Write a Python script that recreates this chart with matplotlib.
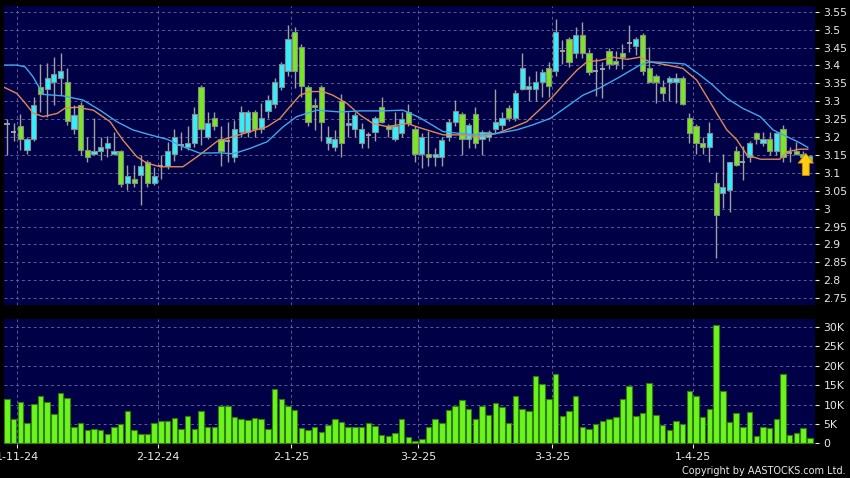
import matplotlib
matplotlib.use("Agg")
import matplotlib.pyplot as plt
import numpy as np

# daily candles, 30-10-24 .. 29-4-25 (121 sessions)
opens = [3.235, 3.215, 3.23, 3.165, 3.195, 3.34, 3.335, 3.355, 3.365, 3.355,
         3.222, 3.29, 3.163, 3.152, 3.162, 3.17, 3.152, 3.162, 3.071, 3.082,
         3.094, 3.13, 3.071, 3.12, 3.12, 3.153, 3.177, 3.171, 3.183, 3.34,
         3.2, 3.252, 3.195, 3.19, 3.143, 3.215, 3.215, 3.27, 3.222, 3.273,
         3.291, 3.34, 3.384, 3.492, 3.452, 3.34, 3.29, 3.34, 3.184, 3.173,
         3.3, 3.234, 3.222, 3.183, 3.205, 3.215, 3.283, 3.231, 3.194, 3.21,
         3.27, 3.222, 3.152, 3.152, 3.143, 3.143, 3.201, 3.241, 3.263, 3.194,
         3.263, 3.194, 3.201, 3.222, 3.234, 3.282, 3.252, 3.334, 3.334, 3.334,
         3.354, 3.392, 3.384, 3.44, 3.473, 3.434, 3.485, 3.434, 3.385, 3.39,
         3.441, 3.412, 3.434, 3.462, 3.454, 3.485, 3.392, 3.37, 3.34, 3.354,
         3.354, 3.364, 3.252, 3.232, 3.183, 3.171, 3.071, 3.043, 3.052, 3.162,
         3.131, 3.145, 3.212, 3.183, 3.194, 3.162, 3.222, 3.155, 3.162, 3.153,
         3.148]
highs = [3.25, 3.24, 3.264, 3.2, 3.313, 3.403, 3.406, 3.424, 3.436, 3.392,
         3.29, 3.299, 3.201, 3.253, 3.2, 3.203, 3.215, 3.165, 3.122, 3.122,
         3.15, 3.135, 3.117, 3.15, 3.187, 3.222, 3.215, 3.231, 3.285, 3.345,
         3.27, 3.27, 3.231, 3.243, 3.247, 3.287, 3.275, 3.275, 3.294, 3.317,
         3.365, 3.41, 3.513, 3.508, 3.46, 3.345, 3.31, 3.345, 3.231, 3.22,
         3.32, 3.27, 3.27, 3.24, 3.215, 3.26, 3.313, 3.235, 3.27, 3.27,
         3.291, 3.23, 3.21, 3.217, 3.17, 3.2, 3.25, 3.303, 3.27, 3.24,
         3.285, 3.22, 3.22, 3.334, 3.27, 3.29, 3.33, 3.434, 3.37, 3.385,
         3.39, 3.41, 3.53, 3.47, 3.48, 3.508, 3.522, 3.445, 3.42, 3.41,
         3.45, 3.44, 3.46, 3.513, 3.48, 3.49, 3.452, 3.375, 3.36, 3.37,
         3.38, 3.37, 3.266, 3.235, 3.2, 3.243, 3.103, 3.153, 3.131, 3.176,
         3.175, 3.19, 3.215, 3.215, 3.215, 3.215, 3.234, 3.173, 3.187, 3.16,
         3.15]
lows = [3.15, 3.19, 3.164, 3.152, 3.19, 3.27, 3.257, 3.29, 3.317, 3.234,
        3.208, 3.15, 3.131, 3.15, 3.135, 3.144, 3.15, 3.061, 3.052, 3.061,
        3.01, 3.061, 3.065, 3.083, 3.11, 3.134, 3.165, 3.165, 3.173, 3.178,
        3.195, 3.22, 3.119, 3.131, 3.131, 3.2, 3.2, 3.201, 3.21, 3.252,
        3.28, 3.33, 3.37, 3.336, 3.313, 3.231, 3.22, 3.19, 3.164, 3.16,
        3.145, 3.2, 3.2, 3.17, 3.17, 3.19, 3.24, 3.2, 3.19, 3.2,
        3.23, 3.131, 3.113, 3.12, 3.12, 3.12, 3.19, 3.23, 3.15, 3.17,
        3.17, 3.15, 3.19, 3.21, 3.22, 3.245, 3.245, 3.33, 3.3, 3.3,
        3.313, 3.313, 3.37, 3.405, 3.396, 3.42, 3.42, 3.373, 3.315, 3.31,
        3.39, 3.39, 3.39, 3.438, 3.43, 3.373, 3.35, 3.294, 3.3, 3.3,
        3.294, 3.29, 3.183, 3.153, 3.153, 3.131, 2.861, 3.001, 2.991, 3.12,
        3.08, 3.131, 3.18, 3.175, 3.15, 3.15, 3.131, 3.131, 3.15, 3.14,
        3.13]
closes = [3.235, 3.215, 3.195, 3.195, 3.29, 3.32, 3.365, 3.375, 3.385, 3.245,
          3.262, 3.165, 3.145, 3.162, 3.172, 3.183, 3.162, 3.07, 3.092, 3.071,
          3.12, 3.071, 3.092, 3.12, 3.162, 3.2, 3.177, 3.183, 3.263, 3.222,
          3.24, 3.231, 3.162, 3.19, 3.222, 3.27, 3.27, 3.222, 3.252, 3.303,
          3.353, 3.403, 3.473, 3.385, 3.342, 3.243, 3.283, 3.243, 3.201, 3.194,
          3.183, 3.24, 3.261, 3.222, 3.205, 3.252, 3.243, 3.222, 3.231, 3.25,
          3.24, 3.152, 3.201, 3.143, 3.152, 3.192, 3.241, 3.273, 3.194, 3.234,
          3.183, 3.213, 3.213, 3.241, 3.252, 3.252, 3.322, 3.392, 3.342, 3.353,
          3.382, 3.342, 3.492, 3.44, 3.41, 3.485, 3.434, 3.382, 3.385, 3.39,
          3.403, 3.403, 3.423, 3.462, 3.473, 3.385, 3.354, 3.354, 3.322, 3.364,
          3.364, 3.292, 3.212, 3.183, 3.171, 3.212, 2.982, 3.061, 3.131, 3.122,
          3.131, 3.183, 3.194, 3.194, 3.162, 3.212, 3.145, 3.155, 3.153, 3.143,
          3.133]
# volume in thousands of shares
volumes = [11.4, 6.3, 10.6, 5.3, 10.2, 12.1, 10.6, 7.5, 12.9, 11.8,
           4.3, 5.3, 3.4, 3.6, 3.3, 2.4, 4.1, 5.0, 8.4, 3.3,
           2.4, 2.4, 5.3, 5.8, 5.8, 6.6, 3.7, 7.1, 3.7, 8.3,
           4.2, 4.1, 9.5, 9.5, 6.9, 6.3, 5.9, 6.4, 6.3, 3.6,
           14.0, 11.4, 9.5, 8.6, 3.9, 3.4, 4.1, 2.9, 4.7, 6.2,
           5.5, 4.1, 4.3, 4.1, 5.3, 4.5, 2.2, 1.9, 2.7, 6.2,
           1.6, 0.5, 1.0, 4.3, 6.3, 5.2, 8.7, 9.7, 11.2, 8.9,
           6.2, 9.6, 7.3, 10.5, 9.3, 5.3, 12.2, 8.9, 8.3, 17.4,
           15.2, 11.5, 17.9, 7.1, 8.4, 12.2, 4.1, 3.7, 4.9, 5.8,
           6.2, 6.9, 11.4, 14.7, 7.1, 7.8, 15.6, 7.3, 4.8, 3.4,
           5.7, 5.0, 13.6, 12.1, 6.8, 8.9, 30.6, 13.6, 5.4, 7.8,
           4.3, 8.0, 1.8, 4.2, 3.9, 6.2, 17.8, 2.1, 2.7, 3.9,
           1.4]

# moving averages (session position, price)
ma_short_pos = [-0.45, 1.45, 2.7, 3.9, 5.4, 7.5, 8.7, 10.5, 12.9, 15.4, 17.3, 19.4,
                20.9, 22.9, 26.3, 28.8, 31.4, 33.8, 36.3, 38.9, 40.8, 42.3, 43.8,
                45.3, 47.2, 48.7, 50.8, 52.8, 54.7, 56.8, 59.8, 61.7, 65.2, 67.7,
                70.7, 73.2, 75.2, 77.7, 80.1, 81.6, 83.1, 85.2, 86.7, 88.6, 90.6,
                92.7, 94.6, 96.1, 98.7, 101.0, 103.1, 104.6, 106.1, 107.6, 109.1,
                110.6, 112.6, 115.5, 116.6, 118.5, 119.7]
ma_short = [3.339, 3.322, 3.295, 3.267, 3.257, 3.266, 3.281, 3.283, 3.275, 3.243, 3.192, 3.145,
            3.127, 3.117, 3.117, 3.15, 3.188, 3.201, 3.215, 3.229, 3.252, 3.285, 3.317,
            3.327, 3.327, 3.317, 3.294, 3.261, 3.238, 3.229, 3.238, 3.226, 3.206, 3.206,
            3.201, 3.21, 3.224, 3.243, 3.285, 3.313, 3.345, 3.387, 3.41, 3.414, 3.423,
            3.417, 3.423, 3.41, 3.401, 3.392, 3.359, 3.313, 3.266, 3.22, 3.192,
            3.15, 3.138, 3.138, 3.159, 3.166, 3.166]
ma_long_pos = [-0.45, 1.5, 2.7, 3.9, 5.4, 8.4, 11.4, 13.9, 16.4, 18.8, 21.4, 23.9,
               26.3, 28.8, 31.8, 33.8, 36.3, 38.9, 41.3, 43.3, 46.3, 49.8, 52.8,
               56.2, 59.2, 61.7, 65.2, 67.7, 70.7, 73.2, 76.2, 78.6, 81.2, 83.7,
               86.1, 88.6, 91.6, 94.6, 96.1, 98.7, 101.3, 103.6, 105.5, 107.6,
               110.0, 112.6, 114.5, 116.6, 118.5, 119.7]
ma_long = [3.401, 3.401, 3.396, 3.368, 3.319, 3.315, 3.303, 3.275, 3.243, 3.22, 3.206, 3.194,
           3.173, 3.155, 3.156, 3.153, 3.168, 3.187, 3.229, 3.257, 3.275, 3.27, 3.273,
           3.273, 3.275, 3.254, 3.215, 3.21, 3.206, 3.21, 3.22, 3.234, 3.252, 3.285,
           3.317, 3.337, 3.368, 3.401, 3.41, 3.408, 3.404, 3.373, 3.345, 3.308,
           3.28, 3.257, 3.22, 3.201, 3.184, 3.171]

date_labels = ["1-11-24", "2-12-24", "2-1-25", "3-2-25", "3-3-25", "1-4-25"]
date_pos = [2, 23, 43, 62, 82, 103]

price_ticks = np.round(np.arange(2.75, 3.5501, 0.05), 2)
vol_ticks = [0, 5, 10, 15, 20, 25, 30]
vol_tick_labels = ["0", "5K", "10K", "15K", "20K", "25K", "30K"]

NAVY = "#000046"
GRID = "#5c5c9c"
CYAN = "#33eeff"
LIME = "#77e822"
TXT = "#e8e8e8"

W, H = 850, 478
fig = plt.figure(figsize=(8.5, 4.78), dpi=100, facecolor="black")
ax = fig.add_axes([4 / W, 1 - 305 / H, 811 / W, 299 / H])
axv = fig.add_axes([4 / W, 1 - 444 / H, 811 / W, 125 / H])

n = len(closes)
x = np.arange(n)
o = np.array(opens)
c = np.array(closes)
up = c > o
down = c < o
flat = c == o

for a in (ax, axv):
    a.set_facecolor(NAVY)
    for s in a.spines.values():
        s.set_visible(False)
    a.set_xlim(-0.45, 120.78)
    for d in date_pos:
        a.axvline(d - 0.5, color=GRID, lw=0.7, ls=(0, (3, 3)), zorder=1)
    a.yaxis.tick_right()
    a.tick_params(axis="y", colors=TXT, labelsize=7.8, length=3, width=0.8, pad=3)

# price panel
ax.set_ylim(2.7308, 3.566)
ax.set_yticks(price_ticks)
ax.set_yticklabels([f"{t:g}" for t in price_ticks])
ax.grid(axis="y", color=GRID, lw=0.7, ls=(0, (3, 3)), zorder=1)
ax.set_xticks([])

ax.vlines(x, lows, highs, color="#a0a0a0", lw=1, zorder=2)
bw = 0.78
ax.bar(x[up], (c - o)[up], bottom=o[up], width=bw, color=CYAN,
       edgecolor="#8a8a8a", linewidth=0.8, zorder=3)
ax.bar(x[down], (o - c)[down], bottom=c[down], width=bw, color=LIME,
       edgecolor="#8a8a8a", linewidth=0.8, zorder=3)
ax.hlines(c[flat], x[flat] - bw / 2, x[flat] + bw / 2, color="#a8a8a8", lw=1.3, zorder=3)

ax.plot(ma_short_pos, ma_short, color="#e08858", lw=1, zorder=4)
ax.plot(ma_long_pos, ma_long, color="#3fa8ee", lw=1, zorder=4)

ax.annotate("", xy=(119.4, 3.162), xytext=(119.4, 3.085),
            arrowprops=dict(arrowstyle="simple,head_width=1.1,head_length=0.7,tail_width=0.5",
                            fc="#ffcc11", ec="#c89000", lw=0.6), zorder=5)

# volume panel
axv.bar(x, volumes, width=0.82, color="#6cf51c", edgecolor="#2f7d0c", linewidth=0.8, zorder=3)
axv.set_ylim(-0.2, 32.1)
axv.set_yticks(vol_ticks)
axv.set_yticklabels(vol_tick_labels)
axv.grid(axis="y", color=GRID, lw=0.7, ls=(0, (3, 3)), zorder=1)
axv.set_xticks([d - 0.5 for d in date_pos])
axv.set_xticklabels(date_labels)
axv.tick_params(axis="x", colors=TXT, labelsize=8, length=3, width=0.8, pad=3)

fig.text(846 / W, 2 / H, "Copyright by AASTOCKS.com Ltd.", color=TXT,
         fontsize=7, ha="right", va="bottom")

fig.savefig("out.png", dpi=100, facecolor="black")
